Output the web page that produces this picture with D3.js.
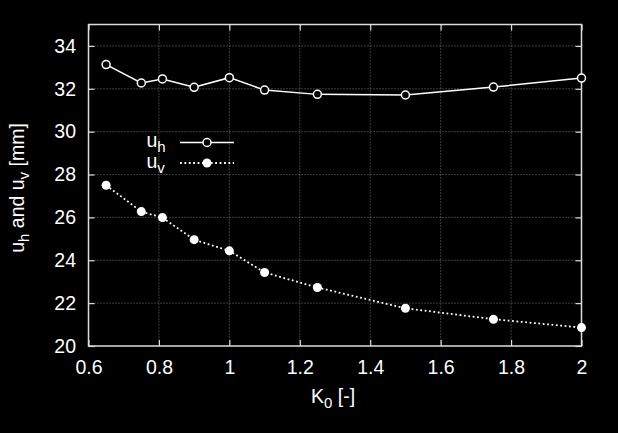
<!DOCTYPE html>
<html>
<head>
<meta charset="utf-8">
<script src="https://cdn.jsdelivr.net/npm/d3@7"></script>
<style>
html,body{margin:0;padding:0;background:#000;}
svg{display:block;}
text{font-family:"Liberation Sans",Arial,Helvetica,sans-serif;fill:#fff;}
</style>
</head>
<body>
<script>
const k0 = [0.65, 0.75, 0.81, 0.9, 1.0, 1.1, 1.25, 1.5, 1.75, 2.0];
const uh = [33.13, 32.27, 32.46, 32.07, 32.52, 31.94, 31.74, 31.71, 32.08, 32.5];
const uv = [27.5, 26.27, 25.99, 24.96, 24.44, 23.43, 22.73, 21.76, 21.25, 20.86];
const xTicks = [0.6, 0.8, 1.0, 1.2, 1.4, 1.6, 1.8, 2.0];
const yTicks = [20, 22, 24, 26, 28, 30, 32, 34];

const W = 618, H = 433;
const FS = "19.5px", SFS = "15px";
const m = {left: 88.5, right: 581.5, top: 24.5, bottom: 346};
const svg = d3.select("body").append("svg").attr("width", W).attr("height", H);
svg.append("rect").attr("width", W).attr("height", H).attr("fill", "#000");

const x = d3.scaleLinear().domain([0.6, 2]).range([m.left, m.right]);
const y = d3.scaleLinear().domain([20, 35]).range([m.bottom, m.top]);

// grid
const g = svg.append("g");
g.selectAll(".gx").data(xTicks.slice(1, -1)).enter().append("line")
  .attr("x1", d => x(d)).attr("x2", d => x(d)).attr("y1", m.top).attr("y2", m.bottom)
  .attr("stroke", "#777").attr("stroke-width", 1).attr("stroke-dasharray", "1,2");
g.selectAll(".gy").data(yTicks.slice(1)).enter().append("line")
  .attr("x1", m.left).attr("x2", m.right).attr("y1", d => y(d)).attr("y2", d => y(d))
  .attr("stroke", "#777").attr("stroke-width", 1).attr("stroke-dasharray", "1,2");

// axes (ticks inward, mirrored)
const fmtX = d => d3.format("")(+d.toFixed(1));
const axB = svg.append("g").attr("transform", `translate(0,${m.bottom})`)
  .call(d3.axisBottom(x).tickValues(xTicks).tickSize(-6).tickPadding(14).tickFormat(fmtX));
const axL = svg.append("g").attr("transform", `translate(${m.left},0)`)
  .call(d3.axisLeft(y).tickValues(yTicks).tickSize(-6).tickPadding(12.5).tickFormat(d3.format("d")));
const axT = svg.append("g").attr("transform", `translate(0,${m.top})`)
  .call(d3.axisTop(x).tickValues(xTicks).tickSize(-6).tickFormat(""));
const axR = svg.append("g").attr("transform", `translate(${m.right},0)`)
  .call(d3.axisRight(y).tickValues(yTicks).tickSize(-6).tickFormat(""));
[axB, axL, axT, axR].forEach(a => {
  a.select(".domain").remove();
  a.selectAll("line").attr("stroke", "#ddd").attr("stroke-width", 1.2);
  a.selectAll("text").attr("fill", "#fff").style("font-size", FS)
    .style("font-family", "'Liberation Sans',Arial,sans-serif");
});
svg.append("rect").attr("x", m.left).attr("y", m.top)
  .attr("width", m.right - m.left).attr("height", m.bottom - m.top)
  .attr("fill", "none").attr("stroke", "#ddd").attr("stroke-width", 1.5);

// lines
const line = (arr) => d3.line().x((d, i) => x(k0[i])).y(d => y(d))(arr);
svg.append("path").attr("d", line(uh)).attr("fill", "none")
  .attr("stroke", "#fff").attr("stroke-width", 1.5);
svg.append("path").attr("d", line(uv)).attr("fill", "none")
  .attr("stroke", "#fff").attr("stroke-width", 1.8).attr("stroke-dasharray", "1.8,2.6");

svg.append("g").selectAll("circle").data(uh).enter().append("circle")
  .attr("cx", (d, i) => x(k0[i])).attr("cy", d => y(d)).attr("r", 4)
  .attr("fill", "#000").attr("stroke", "#fff").attr("stroke-width", 1.5);
svg.append("g").selectAll("circle").data(uv).enter().append("circle")
  .attr("cx", (d, i) => x(k0[i])).attr("cy", d => y(d)).attr("r", 4.5)
  .attr("fill", "#fff");

// legend
const lg = svg.append("g");
const lt1 = lg.append("text").attr("x", 146.5).attr("y", 147).style("font-size", FS);
lt1.append("tspan").text("u");
lt1.append("tspan").attr("dy", 5).style("font-size", SFS).text("h");
const lt2 = lg.append("text").attr("x", 146.5).attr("y", 167.5).style("font-size", FS);
lt2.append("tspan").text("u");
lt2.append("tspan").attr("dy", 5).style("font-size", SFS).text("v");
lg.append("line").attr("x1", 180).attr("x2", 234).attr("y1", 142.5).attr("y2", 142.5)
  .attr("stroke", "#fff").attr("stroke-width", 1.5);
lg.append("circle").attr("cx", 207).attr("cy", 142.5).attr("r", 4)
  .attr("fill", "#000").attr("stroke", "#fff").attr("stroke-width", 1.5);
lg.append("line").attr("x1", 180).attr("x2", 234).attr("y1", 163).attr("y2", 163)
  .attr("stroke", "#fff").attr("stroke-width", 1.8).attr("stroke-dasharray", "1.8,2.6");
lg.append("circle").attr("cx", 207).attr("cy", 163).attr("r", 4.5).attr("fill", "#fff");

// axis titles
const xt = svg.append("text").attr("x", 311).attr("y", 403).style("font-size", FS);
xt.append("tspan").text("K");
xt.append("tspan").attr("dy", 5).style("font-size", SFS).text("0");
xt.append("tspan").attr("dy", -5).text(" [-]");

const yt = svg.append("text").attr("transform", "translate(23.5,188) rotate(-90)")
  .attr("text-anchor", "middle").style("font-size", FS);
yt.append("tspan").text("u");
yt.append("tspan").attr("dy", 5).style("font-size", SFS).text("h");
yt.append("tspan").attr("dy", -5).text(" and u");
yt.append("tspan").attr("dy", 5).style("font-size", SFS).text("v");
yt.append("tspan").attr("dy", -5).text(" [mm]");
</script>
</body>
</html>
